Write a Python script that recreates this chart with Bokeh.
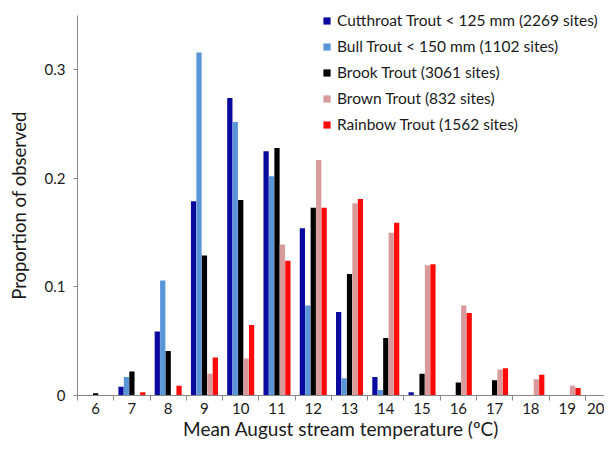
from bokeh.plotting import figure
from bokeh.models import ColumnDataSource, FixedTicker, Range1d, Legend, LegendItem
from bokeh.transform import dodge
from bokeh.embed import file_html
from bokeh.resources import INLINE

temps = [6, 7, 8, 9, 10, 11, 12, 13, 14, 15, 16, 17, 18, 19, 20]
cutthroat = [0.0, 0.008, 0.059, 0.179, 0.274, 0.225, 0.154, 0.077, 0.017, 0.003, 0.0, 0.0, 0.0, 0.0, 0.0]
bull = [0.0, 0.017, 0.106, 0.316, 0.252, 0.202, 0.083, 0.016, 0.005, 0.0, 0.0, 0.0, 0.0, 0.0, 0.0]
brook = [0.002, 0.022, 0.041, 0.129, 0.180, 0.228, 0.173, 0.112, 0.053, 0.020, 0.012, 0.014, 0.0, 0.0, 0.0]
brown = [0.0, 0.0, 0.0, 0.020, 0.034, 0.139, 0.217, 0.177, 0.150, 0.120, 0.083, 0.024, 0.015, 0.009, 0.001]
rainbow = [0.0, 0.003, 0.009, 0.035, 0.065, 0.124, 0.173, 0.181, 0.159, 0.121, 0.076, 0.025, 0.019, 0.007, 0.0015]

series_names = ["Cutthroat Trout < 125 mm (2269 sites)", "Bull Trout < 150 mm (1102 sites)",
                "Brook Trout (3061 sites)", "Brown Trout (832 sites)", "Rainbow Trout (1562 sites)"]
series_keys = ["cutthroat", "bull", "brook", "brown", "rainbow"]
colors = ["#0a0a9e", "#5a95d8", "#000000", "#d89a9a", "#ff0a0a"]
offsets = [-0.3, -0.15, 0.0, 0.15, 0.3]

y_ticks = [0, 0.1, 0.2, 0.3]
y_tick_labels = ["0", "0.1", "0.2", "0.3"]

src = ColumnDataSource(dict(temp=temps, cutthroat=cutthroat, bull=bull, brook=brook,
                            brown=brown, rainbow=rainbow))

FONT = "Lato"
p = figure(width=604, height=442, output_backend="svg", toolbar_location=None,
           x_range=Range1d(5.5, 20.03), y_range=Range1d(0, 0.35),
           min_border_left=77, min_border_right=0, min_border_top=15, min_border_bottom=47)
p.outline_line_color = None
p.xgrid.grid_line_color = None
p.ygrid.grid_line_color = None

items = []
for key, name, col, off in zip(series_keys, series_names, colors, offsets):
    r = p.vbar(x=dodge("temp", off, range=p.x_range), top=key, width=0.145, source=src,
               fill_color=col, line_color=None)
    items.append(LegendItem(label=name, renderers=[r]))

legend = Legend(items=items, location=(245, 258), padding=0, margin=0, spacing=0,
                glyph_width=9, glyph_height=9, label_height=26, label_standoff=6,
                label_text_font=FONT, label_text_font_size="15.5px", label_text_color="#1a1a1a",
                border_line_color=None, background_fill_alpha=0)
p.add_layout(legend)

p.xaxis.ticker = FixedTicker(ticks=temps, minor_ticks=[t - 0.5 for t in temps] + [temps[-1] + 0.5])
p.xaxis.major_tick_line_color = None
p.xaxis.major_tick_out = 0
p.xaxis.major_tick_in = 0
p.xaxis.minor_tick_out = 5
p.xaxis.minor_tick_in = 0
p.xaxis.minor_tick_line_color = "#888888"
p.xaxis.axis_line_color = "#888888"
p.xaxis.major_label_text_font = FONT
p.xaxis.major_label_text_font_size = "15px"
p.xaxis.major_label_text_color = "#1a1a1a"
p.xaxis.major_label_standoff = 2
p.xaxis.axis_label = "Mean August stream temperature (ºC)"
p.xaxis.axis_label_text_font = FONT
p.xaxis.axis_label_text_font_size = "19px"
p.xaxis.axis_label_text_font_style = "normal"
p.xaxis.axis_label_text_color = "#1a1a1a"
p.xaxis.axis_label_standoff = 0

p.yaxis.ticker = FixedTicker(ticks=y_ticks)
p.yaxis.major_label_overrides = {t: l for t, l in zip(y_ticks, y_tick_labels)}
p.yaxis.major_tick_out = 4
p.yaxis.major_tick_in = 0
p.yaxis.major_tick_line_color = "#888888"
p.yaxis.minor_tick_line_color = None
p.yaxis.axis_line_color = "#888888"
p.yaxis.major_label_text_font = FONT
p.yaxis.major_label_text_font_size = "15px"
p.yaxis.major_label_text_color = "#1a1a1a"
p.yaxis.major_label_standoff = 8
p.yaxis.axis_label = "Proportion of observed"
p.yaxis.axis_label_text_font = FONT
p.yaxis.axis_label_text_font_size = "18.5px"
p.yaxis.axis_label_text_font_style = "normal"
p.yaxis.axis_label_text_color = "#1a1a1a"
p.yaxis.axis_label_standoff = 12

open("out.html", "w").write(file_html(p, INLINE))
